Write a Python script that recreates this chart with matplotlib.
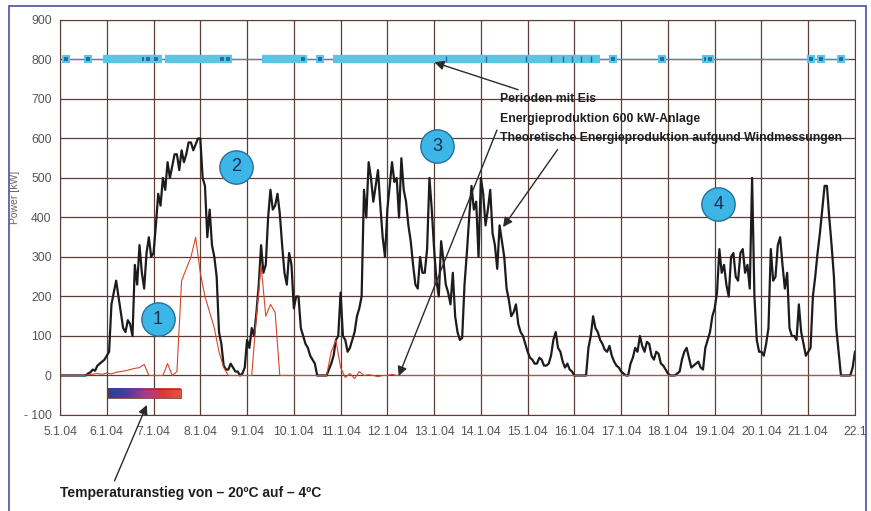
import matplotlib
matplotlib.use("Agg")
import matplotlib.pyplot as plt
import numpy as np
from matplotlib.patches import Rectangle
from matplotlib.colors import LinearSegmentedColormap

plt.rcParams['font.family'] = ['Liberation Sans', 'DejaVu Sans']

# theoretical power from wind measurements, every 0.05 day after 5.1.04
theoretical = [
    0, 0, 0, 0, 0, 0, 0, 0, 0, 0, 0, 0, 5, 8, 15, 12, 25, 30, 35, 40,
    50, 60, 180, 210, 240, 200, 160, 120, 110, 140, 130, 100, 280, 230, 330, 260, 220, 310, 350, 300,
    310, 380, 460, 430, 500, 470, 540, 500, 530, 560, 560, 520, 570, 540, 560, 590, 590, 570, 585, 600,
    600, 500, 480, 350, 420, 330, 300, 250, 110, 80, 25, 15, 15, 30, 20, 10, 10, 0, 5, 20,
    90, 70, 120, 100, 160, 230, 330, 260, 280, 400, 470, 420, 430, 460, 410, 330, 260, 230, 310, 280,
    170, 200, 200, 120, 100, 80, 70, 50, 40, 30, 0, 0, 0, 0, 0, 15, 30, 50, 90, 100,
    210, 100, 90, 60, 70, 90, 110, 150, 170, 200, 470, 400, 540, 500, 440, 480, 520, 430, 350, 300,
    420, 480, 540, 490, 500, 400, 550, 470, 440, 380, 340, 280, 230, 220, 300, 260, 260, 320, 500, 420,
    320, 240, 200, 340, 290, 230, 210, 180, 260, 150, 110, 90, 95, 230, 310, 400, 480, 420, 440, 300,
    500, 460, 380, 420, 470, 360, 330, 270, 380, 340, 300, 220, 190, 150, 160, 180, 130, 110, 100, 80,
    60, 45, 40, 30, 30, 45, 40, 25, 25, 30, 50, 90, 110, 70, 60, 35, 20, 30, 15, 10,
    0, 0, 0, 0, 0, 0, 70, 100, 150, 120, 110, 90, 80, 65, 60, 75, 50, 35, 25, 20,
    10, 5, 0, 0, 30, 45, 70, 60, 100, 75, 60, 85, 80, 50, 40, 60, 55, 30, 25, 15,
    5, 0, 0, 0, 5, 10, 40, 60, 70, 45, 20, 25, 30, 35, 20, 15, 70, 90, 110, 150,
    170, 210, 320, 260, 280, 230, 200, 300, 310, 250, 240, 310, 320, 260, 280, 220, 500, 200, 90, 60,
    60, 50, 80, 120, 320, 240, 250, 330, 350, 280, 220, 260, 120, 100, 100, 90, 180, 110, 80, 50,
    60, 70, 200, 250, 310, 360, 420, 480, 480, 400, 330, 250, 120, 60, 0, 0, 0, 0, 0, 20,
    60]

# produced power of the 600 kW turbine, every 0.1 day
produced = [0, 0, 0, 0, 0, 0, 2, 3, 5, 3,
            6, 4, 8, 10, 12, 15, 18, 20, 28, 0,
            0, 0, 0, 30, 0, 10, 240, 270, 300, 350,
            260, 200, 160, 120, 60, 20, 0, 0, 0, 0,
            0, 0, 150, 280, 150, 180, 160, 0, 0, 0,
            0, 0, 0, 0, 0, 0, 0, 0, 60, 90,
            20, -5, 5, -8, 10, 0, 2, 0, -3, 0,
            0, 3, 0, 0, 0, 0, 0, 0, 0, 0,
            0, 0, 0, 0, 0, 0, 0, 0, 0, 0,
            0, 0, 0, 0, 0, 0, 0, 0, 0, 0,
            0, 0, 0, 0, 0, 0, 0, 0, 0, 0,
            0, 0, 0, 0, 0, 0, 0, 0, 0, 0,
            0, 0, 0, 0, 0, 0, 0, 0, 0, 0,
            0, 0, 0, 0, 0, 0, 0, 0, 0, 0,
            0, 0, 0, 0, 0, 0, 0, 0, 0, 0,
            0, 0, 0, 0, 0, 0, 0, 0, 0, 0,
            0, 0, 0, 0, 0, 0, 0, 0, 0, 0,
            0]

days_th = np.arange(len(theoretical)) * 0.05
days_pr = np.arange(len(produced)) * 0.1

# ice periods (day from, day to) and single ice records
ice_start = [0.92, 2.24, 4.32, 5.83]
ice_end = [2.18, 3.68, 5.2, 11.54]
ice_marks = [0.13, 0.6, 1.79, 1.88, 2.05, 3.46, 3.59, 5.19, 5.56,
             11.82, 12.88, 13.82, 13.9, 16.05, 16.28, 16.71]
ice_ticks = [8.25, 9.12, 9.96, 10.5, 10.75, 10.95, 11.15, 11.35]

date_labels = ['5.1.04', '6.1.04', '7.1.04', '8.1.04', '9.1.04', '10.1.04',
               '11.1.04', '12.1.04', '13.1.04', '14.1.04', '15.1.04',
               '16.1.04', '17.1.04', '18.1.04', '19.1.04', '20.1.04',
               '21.1.04', '22.1']
y_ticks = [-100, 0, 100, 200, 300, 400, 500, 600, 700, 800, 900]

circles = [(2.09, 142, '1'), (3.76, 529, '2'), (8.06, 580, '3'), (14.08, 433, '4')]

fig = plt.figure(figsize=(8.71, 5.11), dpi=100)
ax = fig.add_axes([0.0689, 0.1879, 0.9127, 0.773])

grid_c = '#5e3c36'
ax.set_xlim(0, 17)
ax.set_ylim(-100, 900)
ax.set_xticks(range(len(date_labels)))
ax.set_xticklabels(date_labels)
ax.set_yticks(y_ticks)
ax.set_yticklabels(['- 100' if v < 0 else str(v) for v in y_ticks])
ax.grid(True, color=grid_c, lw=0.9)
ax.set_axisbelow(True)
for s in ax.spines.values():
    s.set_color(grid_c)
ax.tick_params(length=0, colors='#555555', labelsize=8.8, pad=8)
ax.tick_params(axis='y', pad=6)
ax.set_ylabel('Power [kW]', color='#666666', fontsize=7.5)
ax.yaxis.set_label_coords(-0.05, 0.55)

# ice periods
ax.plot([0.05, 16.85], [800, 800], color='#3f8fb5', lw=0.9)
for a, b in zip(ice_start, ice_end):
    ax.plot([a, b], [800, 800], color='#5cc6e2', lw=6, solid_capstyle='butt')
ax.plot(ice_marks, [800] * len(ice_marks), 's', ms=5, mfc='#2c65ad',
        mec='#5cc6e2', mew=1.5)
ax.plot(ice_ticks, [800] * len(ice_ticks), '|', ms=5, color='#2c65ad', mew=1)

ax.plot(days_th, theoretical, color='#1c1c1c', lw=1.6)
ax.plot(days_pr, produced, color='#d8452a', lw=0.8)

# temperature bar
cmap = LinearSegmentedColormap.from_list('temp', ['#23449a', '#4a3aa0', '#a23c90', '#d8383c', '#e0553e'])
ax.imshow(np.linspace(0, 1, 100).reshape(1, -1), cmap=cmap, aspect='auto',
          extent=(1.03, 2.58, -57, -34), zorder=3)
ax.add_patch(Rectangle((1.03, -57), 1.55, 23, fill=False, ec='#7a3a3a', lw=0.6, zorder=4))

for x, y, t in circles:
    ax.plot(x, y, 'o', ms=24, mfc='#3cb6e6', mec='#2a6f9a', mew=1.0, zorder=5)
    ax.text(x, y, t, ha='center', va='center', fontsize=13, color='#1f2d55', zorder=6)

arrow = dict(arrowstyle='-|>', color='#2a2a2a', lw=1.0, mutation_scale=14)
txt = dict(fontsize=8.8, color='#1e1e1e', fontweight='bold', ha='left', va='center')
ax.annotate('Perioden mit Eis', xy=(7.95, 795), xytext=(9.4, 699),
            arrowprops=arrow, **txt)
ax.annotate('Energieproduktion 600 kW-Anlage', xy=(7.22, -8), xytext=(9.4, 650),
            arrowprops=dict(arrow, relpos=(0, 0.1)), **txt)
ax.annotate('Theoretische Energieproduktion aufgund Windmessungen', xy=(9.44, 370),
            xytext=(9.4, 600), arrowprops=dict(arrow, relpos=(0.18, 0)), **txt)
ax.annotate('Temperaturanstieg von \u2013 20ºC auf \u2013 4ºC', xy=(1.88, -68),
            xytext=(0.0, -298), arrowprops=dict(arrow, relpos=(0.2, 1.0)),
            annotation_clip=False, **dict(txt, fontsize=10))

fig.patches.append(Rectangle((9 / 871, -0.05), 857 / 871, 1.05 - 6 / 511,
                             transform=fig.transFigure, fill=False,
                             ec='#5b5fa5', lw=1.3))

fig.savefig('out.png', dpi=100)
